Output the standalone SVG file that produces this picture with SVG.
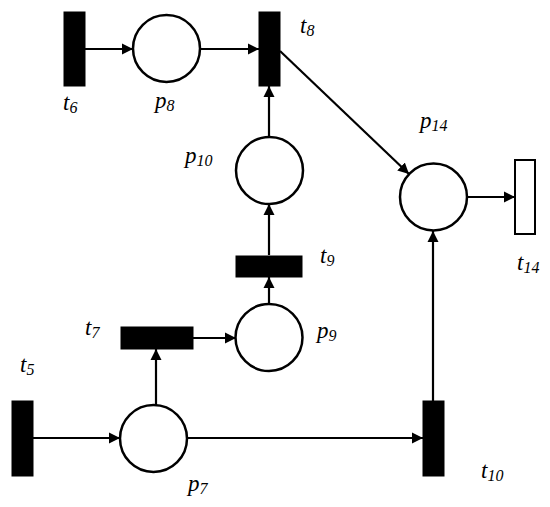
<svg xmlns="http://www.w3.org/2000/svg" width="550" height="507" viewBox="0 0 550 507">
<defs>
<marker id="ah" markerUnits="userSpaceOnUse" markerWidth="12" markerHeight="12" refX="11" refY="6" orient="auto">
<path d="M0,0.5 L11,6 L0,11.5 z" fill="#000"/>
</marker>
<style>
.pl{fill:#fff;stroke:#000;stroke-width:2.5}
.tr{fill:#000;stroke:#000;stroke-width:1}
.tw{fill:#fff;stroke:#000;stroke-width:2}
.arc{fill:none;stroke:#000;stroke-width:2.2;marker-end:url(#ah)}
.lb{font-family:"Liberation Serif","Times New Roman",serif;font-style:italic;font-size:23px;fill:#000}
.sb{font-size:16px}
</style>
</defs>
<rect width="550" height="507" fill="#fff"/>
<g id="connectors">
<line class="arc" x1="85" y1="49" x2="133" y2="49"/>
<line class="arc" x1="200" y1="49" x2="259" y2="49"/>
<line class="arc" x1="269" y1="136" x2="269" y2="86"/>
<line class="arc" x1="269" y1="255" x2="269" y2="204"/>
<line class="arc" x1="269" y1="304" x2="269" y2="277"/>
<line class="arc" x1="193" y1="338" x2="236" y2="338"/>
<line class="arc" x1="156" y1="405" x2="156" y2="349"/>
<line class="arc" x1="33" y1="438" x2="120" y2="438"/>
<line class="arc" x1="187" y1="438" x2="423" y2="438"/>
<line class="arc" x1="433" y1="401" x2="433" y2="231"/>
<line class="arc" x1="280" y1="51" x2="409" y2="174"/>
<line class="arc" x1="467" y1="197" x2="515" y2="197"/>
</g>
<g id="t6"><rect class="tr" x="64" y="12" width="21" height="74"/><text class="lb" x="63" y="110">t<tspan class="sb" dy="3">6</tspan></text></g>
<g id="p8"><circle class="pl" cx="166.5" cy="48.5" r="33.5"/><text class="lb" x="155" y="108">p<tspan class="sb" dy="3">8</tspan></text></g>
<g id="t8"><rect class="tr" x="259" y="12" width="21" height="74"/><text class="lb" x="300" y="33">t<tspan class="sb" dy="3">8</tspan></text></g>
<g id="p10"><circle class="pl" cx="269.5" cy="170.5" r="33.5"/><text class="lb" x="185" y="163">p<tspan class="sb" dy="3">10</tspan></text></g>
<g id="t9"><rect class="tr" x="236" y="256" width="66" height="21"/><text class="lb" x="320" y="263">t<tspan class="sb" dy="3">9</tspan></text></g>
<g id="p14"><circle class="pl" cx="433.5" cy="197" r="33.5"/><text class="lb" x="420" y="128">p<tspan class="sb" dy="3">14</tspan></text></g>
<g id="t14"><rect class="tw" x="515" y="160" width="20" height="74"/><text class="lb" x="517" y="270">t<tspan class="sb" dy="3">14</tspan></text></g>
<g id="t7"><rect class="tr" x="121" y="327" width="72" height="22"/><text class="lb" x="85" y="335">t<tspan class="sb" dy="3">7</tspan></text></g>
<g id="p9"><circle class="pl" cx="269" cy="337.5" r="33.5"/><text class="lb" x="317" y="338">p<tspan class="sb" dy="3">9</tspan></text></g>
<g id="t5"><rect class="tr" x="12" y="401" width="21" height="75"/><text class="lb" x="20" y="372">t<tspan class="sb" dy="3">5</tspan></text></g>
<g id="p7"><circle class="pl" cx="153.5" cy="438.5" r="33.5"/><text class="lb" x="188" y="491">p<tspan class="sb" dy="3">7</tspan></text></g>
<g id="t10"><rect class="tr" x="423" y="401" width="21" height="75"/><text class="lb" x="481" y="478">t<tspan class="sb" dy="3">10</tspan></text></g>
</svg>
